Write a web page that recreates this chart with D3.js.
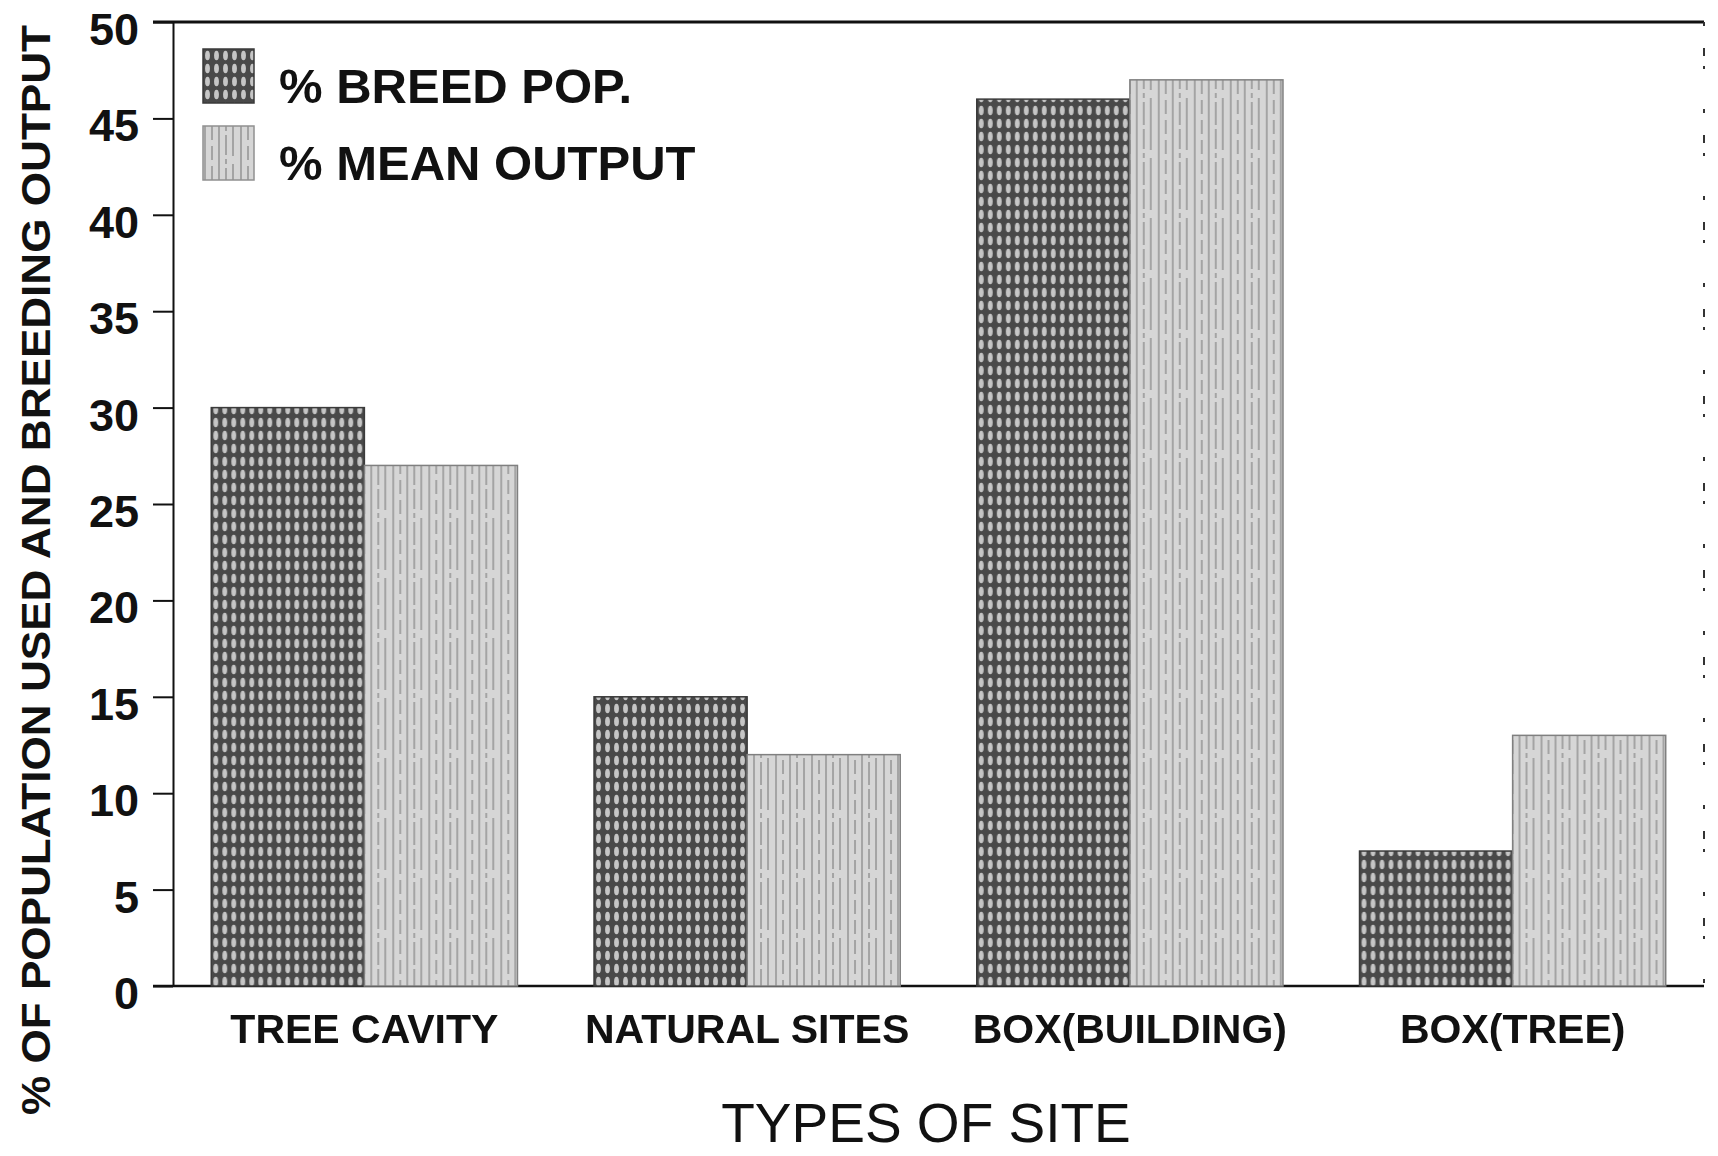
<!DOCTYPE html>
<html>
<head>
<meta charset="utf-8">
<script src="https://cdn.jsdelivr.net/npm/d3@7"></script>
<style>
  body { margin: 0; background: #fff; }
  svg { display: block; }
  text { font-family: "Liberation Sans", Arial, sans-serif; fill: #111; }
</style>
</head>
<body>
<svg id="chart" width="1718" height="1156"></svg>
<script>
var categories = ['TREE CAVITY', 'NATURAL SITES', 'BOX(BUILDING)', 'BOX(TREE)'];
var breedPop = [30, 15, 46, 7];
var meanOutput = [27, 12, 47, 13];
var seriesKeys = ['breed', 'mean'];
var seriesNames = ['% BREED POP.', '% MEAN OUTPUT'];
var yTicks = [0, 5, 10, 15, 20, 25, 30, 35, 40, 45, 50];
var yTitle = '% OF POPULATION USED AND BREEDING OUTPUT';
var xTitle = 'TYPES OF SITE';

(function () {
  var svg = d3.select('#chart');
  var plotLeft = 173, plotRight = 1704, plotTop = 22, plotBottom = 986;

  var y = d3.scaleLinear().domain([0, 50]).range([plotBottom, plotTop]);
  var x = d3.scaleBand().domain(categories).range([plotLeft, plotRight])
    .paddingInner(0.2).paddingOuter(0.1);
  var xs = d3.scaleBand().domain(seriesKeys).range([0, x.bandwidth()]);

  // patterns, scanned-print look
  var defs = svg.append('defs');

  var pBreed = defs.append('pattern')
    .attr('id', 'pat-breed')
    .attr('patternUnits', 'userSpaceOnUse')
    .attr('width', 9).attr('height', 13);
  pBreed.append('rect').attr('width', 9).attr('height', 13).attr('fill', '#4a4a4a');
  pBreed.append('ellipse')
    .attr('cx', 4.5).attr('cy', 6.5).attr('rx', 2.4).attr('ry', 4.8)
    .attr('fill', '#c6c6c6');

  var pMean = defs.append('pattern')
    .attr('id', 'pat-mean')
    .attr('patternUnits', 'userSpaceOnUse')
    .attr('width', 36).attr('height', 60);
  pMean.append('rect').attr('width', 36).attr('height', 60).attr('fill', '#d6d6d6');
  var meanLines = [
    { x: 2, dash: null },
    { x: 9, dash: '14,6' },
    { x: 16, dash: null },
    { x: 23, dash: '5,4,20,4' },
    { x: 30, dash: '30,8' }
  ];
  meanLines.forEach(function (l) {
    pMean.append('line')
      .attr('x1', l.x).attr('x2', l.x)
      .attr('y1', 0).attr('y2', 60)
      .attr('stroke', '#8a8a8a')
      .attr('stroke-width', 1.3)
      .attr('stroke-dasharray', l.dash);
  });

  var soft = defs.append('filter').attr('id', 'soft');
  soft.append('feGaussianBlur').attr('stdDeviation', 0.7);

  // frame: top line, dashed right edge, baseline
  svg.append('line')
    .attr('x1', 153).attr('x2', plotRight)
    .attr('y1', y(50)).attr('y2', y(50))
    .attr('stroke', '#111').attr('stroke-width', 3);

  svg.append('line')
    .attr('x1', plotRight).attr('x2', plotRight)
    .attr('y1', y(50)).attr('y2', y(0))
    .attr('stroke', '#333').attr('stroke-width', 2)
    .attr('stroke-dasharray', '4,22,8,10,3,40');

  svg.append('line')
    .attr('x1', 153).attr('x2', plotRight)
    .attr('y1', y(0)).attr('y2', y(0))
    .attr('stroke', '#111').attr('stroke-width', 2.5);

  // y axis
  var yAxis = svg.append('g')
    .attr('transform', 'translate(' + plotLeft + ',0)')
    .call(d3.axisLeft(y).tickValues(yTicks).tickSize(20).tickSizeOuter(0).tickPadding(14));
  yAxis.select('.domain').attr('stroke', '#111').attr('stroke-width', 2);
  yAxis.selectAll('.tick line').attr('stroke', '#111').attr('stroke-width', 2);
  yAxis.selectAll('.tick text')
    .attr('dy', '0.5em')
    .style('font-family', '"Liberation Sans", Arial, sans-serif')
    .style('font-size', '45px')
    .style('font-weight', 'bold')
    .attr('fill', '#111');

  // bars
  var rows = categories.map(function (c, i) {
    return { cat: c, breed: breedPop[i], mean: meanOutput[i] };
  });

  var barsG = svg.append('g').attr('filter', 'url(#soft)');
  var groups = barsG.selectAll('g.site')
    .data(rows)
    .join('g')
    .attr('class', 'site')
    .attr('transform', function (d) { return 'translate(' + x(d.cat) + ',0)'; });

  groups.selectAll('rect')
    .data(function (d) {
      return seriesKeys.map(function (k) { return { key: k, value: d[k] }; });
    })
    .join('rect')
    .attr('x', function (d) { return xs(d.key); })
    .attr('y', function (d) { return y(d.value); })
    .attr('width', xs.bandwidth())
    .attr('height', function (d) { return y(0) - y(d.value); })
    .attr('fill', function (d) { return 'url(#pat-' + d.key + ')'; })
    .attr('stroke', function (d) { return d.key === 'breed' ? '#3a3a3a' : '#808080'; })
    .attr('stroke-width', 1.5);

  // x axis labels
  var xAxis = svg.append('g')
    .attr('transform', 'translate(0,' + plotBottom + ')')
    .call(d3.axisBottom(x).tickSize(0));
  xAxis.select('.domain').remove();
  xAxis.selectAll('.tick text')
    .attr('y', 57).attr('dy', 0)
    .style('font-family', '"Liberation Sans", Arial, sans-serif')
    .style('font-size', '41px')
    .style('font-weight', 'bold')
    .attr('fill', '#111');

  // legend
  var legend = svg.append('g').attr('transform', 'translate(203,49)');
  var legendItems = legend.selectAll('g')
    .data(seriesKeys)
    .join('g')
    .attr('transform', function (d, i) { return 'translate(0,' + (i * 77) + ')'; });
  legendItems.append('rect')
    .attr('width', 51).attr('height', 54)
    .attr('fill', function (d) { return 'url(#pat-' + d + ')'; })
    .attr('stroke', function (d) { return d === 'breed' ? '#3a3a3a' : '#909090'; })
    .attr('stroke-width', 1.5)
    .attr('filter', 'url(#soft)');
  legendItems.append('text')
    .attr('x', 76).attr('y', 54)
    .style('font-size', '49px')
    .style('font-weight', 'bold')
    .text(function (d, i) { return seriesNames[i]; });

  // axis titles
  svg.append('text')
    .attr('transform', 'translate(50,570) rotate(-90)')
    .attr('text-anchor', 'middle')
    .attr('textLength', 1090)
    .attr('lengthAdjust', 'spacingAndGlyphs')
    .style('font-size', '41px')
    .style('font-weight', 'bold')
    .text(yTitle);

  svg.append('text')
    .attr('x', 926).attr('y', 1142)
    .attr('text-anchor', 'middle')
    .style('font-size', '55px')
    .text(xTitle);
})();
</script>
</body>
</html>
